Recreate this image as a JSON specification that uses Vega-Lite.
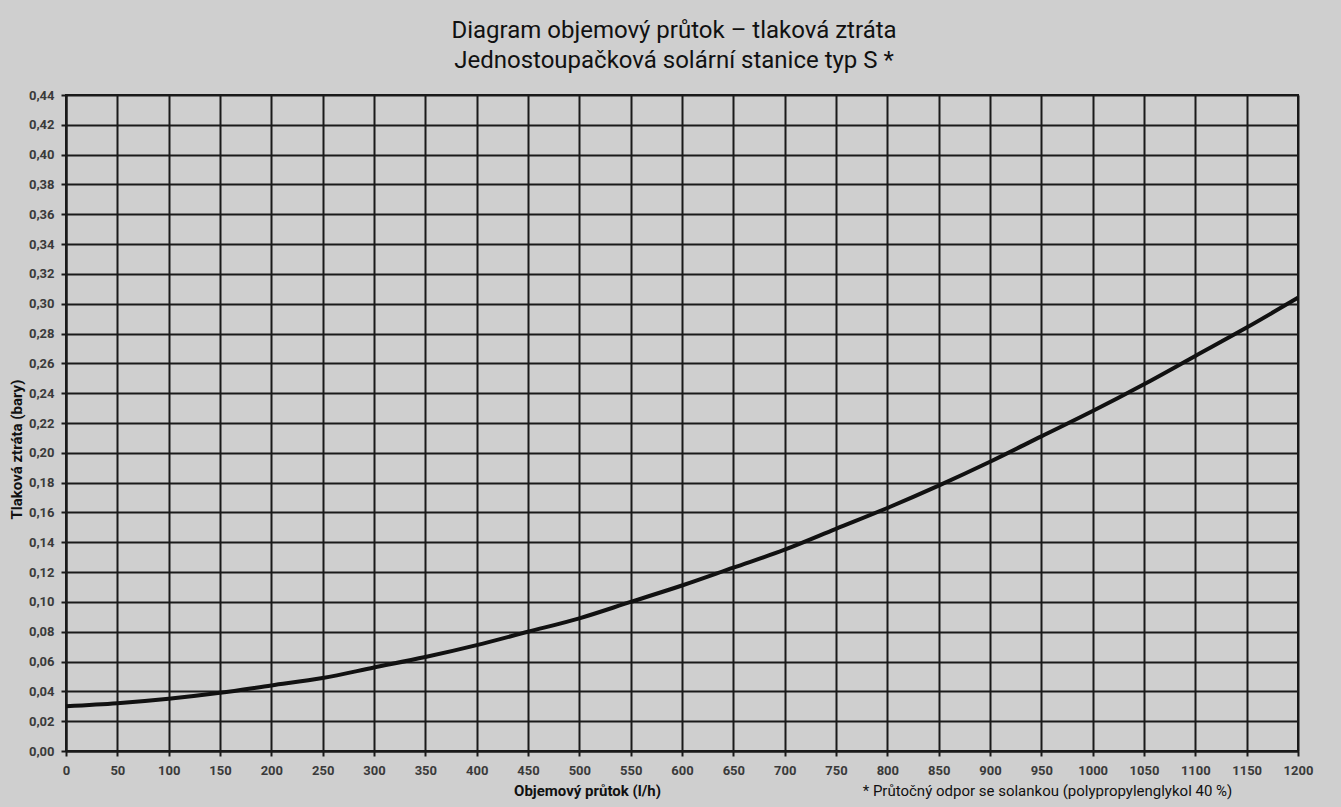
{
  "$schema": "https://vega.github.io/schema/vega-lite/v6.json",
  "autosize": {"type": "none"},
  "width": 1232,
  "height": 656,
  "padding": {"left": 66, "top": 95, "right": 43, "bottom": 56},
  "background": "#cfcfcf",
  "title": {
    "text": ["Diagram objemový průtok – tlaková ztráta", "Jednostoupačková solární stanice typ S *"],
    "font": "Roboto",
    "fontSize": 24,
    "fontWeight": "normal",
    "color": "#111111",
    "lineHeight": 30,
    "offset": 16,
    "anchor": "middle",
    "dx": -8
  },
  "config": {
    "view": {"stroke": "#1a1a1a", "strokeWidth": 2, "fill": "#cfcfcf"},
    "axis": {
      "grid": true,
      "gridColor": "#1a1a1a",
      "gridWidth": 2,
      "gridOpacity": 1,
      "domainColor": "#1a1a1a",
      "domainWidth": 2,
      "tickColor": "#1a1a1a",
      "tickWidth": 2,
      "tickSize": 5,
      "labelOverlap": false,
      "labelFlush": false,
      "labelFont": "Roboto",
      "labelFontSize": 13,
      "labelFontWeight": "bold",
      "labelColor": "#3a3a3a",
      "titleFont": "Roboto",
      "titleFontSize": 15,
      "titleFontWeight": "bold",
      "titleColor": "#111111"
    }
  },
  "data": {
    "values": [
      {"flow": 0, "loss": 0.030},
      {"flow": 50, "loss": 0.032},
      {"flow": 100, "loss": 0.035},
      {"flow": 150, "loss": 0.039},
      {"flow": 200, "loss": 0.044},
      {"flow": 250, "loss": 0.049},
      {"flow": 300, "loss": 0.056},
      {"flow": 350, "loss": 0.063},
      {"flow": 400, "loss": 0.071},
      {"flow": 450, "loss": 0.080},
      {"flow": 500, "loss": 0.089},
      {"flow": 550, "loss": 0.100},
      {"flow": 600, "loss": 0.111},
      {"flow": 650, "loss": 0.123},
      {"flow": 700, "loss": 0.135},
      {"flow": 750, "loss": 0.149},
      {"flow": 800, "loss": 0.163},
      {"flow": 850, "loss": 0.178},
      {"flow": 900, "loss": 0.194},
      {"flow": 950, "loss": 0.211},
      {"flow": 1000, "loss": 0.228},
      {"flow": 1050, "loss": 0.246},
      {"flow": 1100, "loss": 0.265},
      {"flow": 1150, "loss": 0.284},
      {"flow": 1200, "loss": 0.304}
    ]
  },
  "layer": [
    {
      "mark": {"type": "line", "color": "#111111", "strokeWidth": 4, "interpolate": "monotone"},
      "encoding": {
        "x": {
          "field": "flow",
          "type": "quantitative",
          "scale": {"domain": [0, 1200], "nice": false},
          "axis": {"values": [0,50,100,150,200,250,300,350,400,450,500,550,600,650,700,750,800,850,900,950,1000,1050,1100,1150,1200], "tickCount": 60, "format": "d", "title": "Objemový průtok (l/h)", "titleX": 521, "titleY": 32, "titleBaseline": "top", "labelPadding": 8, "labelOverlap": false, "labelFlush": false}
        },
        "y": {
          "field": "loss",
          "type": "quantitative",
          "scale": {"domain": [0, 0.44], "nice": false},
          "axis": {"values": [0,0.02,0.04,0.06,0.08,0.1,0.12,0.14,0.16,0.18,0.2,0.22,0.24,0.26,0.28,0.3,0.32,0.34,0.36,0.38,0.4,0.42,0.44], "tickCount": 60, "labelExpr": "replace(format(datum.value, '.2f'), '.', ',')", "title": "Tlaková ztráta (bary)", "titlePadding": 4, "titleY": 354, "labelPadding": 7, "labelOverlap": false, "labelFlush": false}
        }
      }
    },
    {
      "data": {"values": [{"note": "* Průtočný odpor se solankou (polypropylenglykol 40 %)", "nx": 956, "ny": -0.0305}]},
      "mark": {"type": "text", "font": "Roboto", "fontSize": 15, "color": "#111111", "clip": false, "baseline": "alphabetic", "align": "center"},
      "encoding": {
        "text": {"field": "note"},
        "x": {"field": "nx", "type": "quantitative"},
        "y": {"field": "ny", "type": "quantitative"}
      }
    }
  ]
}
